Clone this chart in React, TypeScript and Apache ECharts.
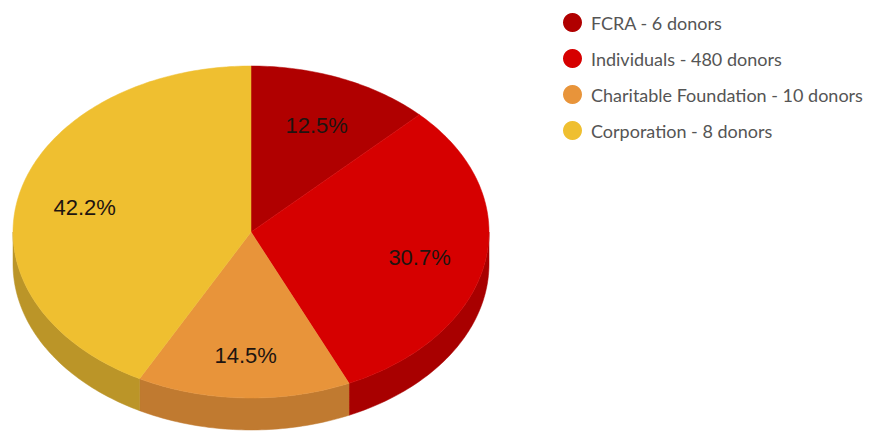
import React, { useEffect, useRef } from "react";
import * as echarts from "echarts";

const categories = [
  "FCRA - 6 donors",
  "Individuals - 480 donors",
  "Charitable Foundation - 10 donors",
  "Corporation - 8 donors",
];
const percentages = [12.5, 30.7, 14.5, 42.2];
const topColors = ["#b00000", "#d60000", "#e8943a", "#efbf30"];
const sideColors = ["#8e0000", "#a80000", "#c07a30", "#bb9528"];

const CX = 251;
const CY = 232;
const RX = 238;
const RY = 166;
const DEPTH = 32;
const LABEL_R = 0.72;
const LABEL_DY = 4;

function pt(theta: number, dy = 0, f = 1): number[] {
  return [CX + RX * f * Math.sin(theta), CY - RY * f * Math.cos(theta) + dy];
}

function arcPoints(a0: number, a1: number, dy = 0): number[][] {
  const pts: number[][] = [];
  const steps = Math.max(2, Math.ceil(((a1 - a0) * 180) / Math.PI));
  for (let i = 0; i <= steps; i++) {
    pts.push(pt(a0 + ((a1 - a0) * i) / steps, dy));
  }
  return pts;
}

export default function App() {
  const ref = useRef<HTMLDivElement>(null);
  useEffect(() => {
    if (!ref.current) return;
    const chart = echarts.init(ref.current, null, { renderer: "svg" });
    const total = percentages.reduce((a, b) => a + b, 0);
    const series = categories.map((name, i) => {
      const before = percentages.slice(0, i).reduce((a, b) => a + b, 0);
      return {
        type: "custom",
        name,
        coordinateSystem: "none",
        itemStyle: { color: topColors[i] },
        data: [percentages[i]],
        renderItem: (params: any, api: any) => {
          const v = api.value(0);
          const a0 = (before / total) * Math.PI * 2;
          const a1 = ((before + v) / total) * Math.PI * 2;
          const children: any[] = [];
          const s0 = Math.max(a0, Math.PI / 2);
          const s1 = Math.min(a1, (Math.PI * 3) / 2);
          if (s1 > s0) {
            const up = arcPoints(s0, s1, 0);
            const down = arcPoints(s0, s1, DEPTH).reverse();
            children.push({
              type: "polygon",
              shape: { points: up.concat(down) },
              style: { fill: sideColors[i], stroke: sideColors[i], lineWidth: 0.5 },
            });
          }
          const top = [[CX, CY]].concat(arcPoints(a0, a1, 0));
          children.push({
            type: "polygon",
            shape: { points: top },
            style: { fill: topColors[i], stroke: topColors[i], lineWidth: 0.5 },
          });
          const mid = (a0 + a1) / 2;
          const lp = pt(mid, LABEL_DY, LABEL_R);
          children.push({
            type: "text",
            x: lp[0],
            y: lp[1],
            style: {
              text: v.toFixed(1) + "%",
              fill: "#1e1410",
              font: "22px 'Liberation Sans', Arial, sans-serif",
              align: "center",
              verticalAlign: "middle",
            },
          });
          return { type: "group", children };
        },
      };
    });
    chart.setOption({
      animation: false,
      color: topColors,
      legend: {
        orient: "vertical",
        left: 558,
        top: 8,
        icon: "circle",
        itemWidth: 19,
        itemHeight: 19,
        itemGap: 17,
        data: categories,
        textStyle: {
          color: "#555555",
          fontSize: 18,
          fontFamily: "Lato, 'Open Sans', sans-serif",
          padding: [0, 0, 0, 4],
        },
        selectedMode: false,
      },
      series,
    });
    return () => chart.dispose();
  }, []);
  return (
    <div
      ref={ref}
      style={{ width: 874, height: 435, position: "absolute", left: 0, top: 0, background: "#fff" }}
    />
  );
}
